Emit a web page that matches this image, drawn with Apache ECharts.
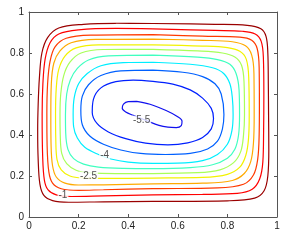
<!DOCTYPE html>
<html><head><meta charset="utf-8">
<script src="https://cdn.jsdelivr.net/npm/echarts@6/dist/echarts.min.js"></script>
<style>html,body{margin:0;padding:0;background:#fff}#c{width:291px;height:242px}</style>
</head><body><div id="c"></div>
<script>
// contour levels (outer -> inner)
const levels = [-0.5, -1, -1.5, -2, -2.5, -3, -3.5, -4, -4.5, -5, -5.5];
const xTicks = [0, 0.2, 0.4, 0.6, 0.8, 1];
const yTicks = [0, 0.2, 0.4, 0.6, 0.8, 1];

// contour paths, [x, y]
const cM05 = [[0.5,0.944],[0.75,0.94],[0.88,0.935],[0.935,0.918],[0.956,0.88],[0.963,0.8],[0.965,0.65],[0.966,0.5],[0.967,0.33],[0.963,0.2],[0.948,0.128],[0.91,0.092],[0.8,0.079],[0.5,0.076],[0.3,0.074],[0.16,0.072],[0.095,0.08],[0.06,0.105],[0.044,0.16],[0.037,0.28],[0.035,0.42],[0.037,0.55],[0.042,0.68],[0.052,0.8],[0.075,0.875],[0.12,0.922],[0.22,0.94],[0.35,0.945],[0.5,0.944]];
const cM10 = [[0.5,0.918],[0.75,0.91],[0.86,0.906],[0.912,0.893],[0.936,0.858],[0.945,0.78],[0.947,0.6],[0.946,0.42],[0.943,0.27],[0.93,0.185],[0.9,0.135],[0.84,0.115],[0.7,0.11],[0.5,0.108],[0.3,0.103],[0.17,0.1],[0.11,0.108],[0.077,0.132],[0.062,0.18],[0.055,0.3],[0.053,0.5],[0.056,0.65],[0.065,0.77],[0.085,0.85],[0.12,0.893],[0.2,0.913],[0.35,0.92],[0.5,0.918]];
const cM15 = [[0.5,0.89],[0.7,0.882],[0.85,0.877],[0.898,0.862],[0.92,0.822],[0.928,0.73],[0.929,0.55],[0.928,0.4],[0.922,0.28],[0.905,0.205],[0.865,0.16],[0.76,0.142],[0.5,0.138],[0.3,0.133],[0.2,0.13],[0.13,0.138],[0.095,0.165],[0.08,0.22],[0.073,0.35],[0.072,0.5],[0.075,0.65],[0.085,0.76],[0.105,0.83],[0.15,0.872],[0.25,0.887],[0.5,0.89]];
const cM20 = [[0.5,0.868],[0.7,0.862],[0.82,0.855],[0.873,0.835],[0.898,0.79],[0.907,0.7],[0.908,0.5],[0.905,0.36],[0.894,0.27],[0.868,0.212],[0.82,0.178],[0.7,0.165],[0.5,0.162],[0.3,0.157],[0.2,0.156],[0.145,0.165],[0.11,0.195],[0.095,0.25],[0.089,0.35],[0.088,0.5],[0.09,0.65],[0.1,0.75],[0.125,0.81],[0.17,0.85],[0.27,0.866],[0.5,0.868]];
const cM25 = [[0.5,0.84],[0.7,0.834],[0.8,0.826],[0.85,0.808],[0.876,0.77],[0.886,0.68],[0.888,0.5],[0.885,0.38],[0.874,0.3],[0.85,0.243],[0.8,0.208],[0.7,0.193],[0.5,0.19],[0.3,0.188],[0.22,0.19],[0.165,0.2],[0.13,0.23],[0.113,0.28],[0.108,0.38],[0.107,0.5],[0.11,0.63],[0.12,0.72],[0.145,0.785],[0.19,0.825],[0.28,0.84],[0.5,0.84]];
const cM30 = [[0.5,0.818],[0.68,0.81],[0.78,0.8],[0.83,0.78],[0.857,0.74],[0.867,0.66],[0.869,0.5],[0.865,0.4],[0.854,0.32],[0.825,0.265],[0.77,0.23],[0.68,0.216],[0.5,0.212],[0.35,0.212],[0.25,0.215],[0.19,0.228],[0.152,0.26],[0.132,0.31],[0.126,0.4],[0.125,0.5],[0.128,0.6],[0.14,0.69],[0.165,0.755],[0.21,0.8],[0.3,0.817],[0.5,0.818]];
const cM35 = [[0.5,0.79],[0.68,0.78],[0.76,0.768],[0.81,0.745],[0.835,0.7],[0.847,0.62],[0.849,0.5],[0.845,0.4],[0.83,0.33],[0.8,0.287],[0.74,0.255],[0.65,0.241],[0.5,0.236],[0.38,0.237],[0.28,0.243],[0.22,0.258],[0.18,0.285],[0.157,0.33],[0.148,0.41],[0.147,0.5],[0.152,0.6],[0.167,0.67],[0.195,0.725],[0.24,0.766],[0.32,0.786],[0.5,0.79]];
const cM40 = [[0.5,0.755],[0.65,0.745],[0.74,0.728],[0.785,0.7],[0.81,0.65],[0.82,0.58],[0.823,0.5],[0.818,0.42],[0.8,0.355],[0.76,0.305],[0.7,0.275],[0.6,0.263],[0.5,0.262],[0.4,0.268],[0.33,0.283],[0.28,0.305],[0.225,0.34],[0.195,0.385],[0.18,0.44],[0.178,0.5],[0.182,0.58],[0.2,0.65],[0.235,0.7],[0.29,0.738],[0.38,0.753],[0.5,0.755]];
const cM45 = [[0.5,0.716],[0.62,0.706],[0.7,0.685],[0.75,0.65],[0.775,0.6],[0.786,0.5],[0.78,0.43],[0.76,0.37],[0.72,0.332],[0.65,0.31],[0.55,0.305],[0.45,0.31],[0.37,0.327],[0.3,0.355],[0.245,0.395],[0.215,0.45],[0.209,0.52],[0.215,0.59],[0.24,0.645],[0.29,0.69],[0.37,0.713],[0.5,0.716]];
const cM50 = [[0.5,0.662],[0.58,0.648],[0.65,0.62],[0.7,0.58],[0.735,0.53],[0.744,0.48],[0.735,0.43],[0.7,0.388],[0.64,0.362],[0.56,0.352],[0.47,0.36],[0.39,0.382],[0.32,0.415],[0.275,0.455],[0.255,0.51],[0.26,0.575],[0.29,0.63],[0.35,0.66],[0.42,0.668],[0.5,0.662]];
const cM55 = [[0.434,0.564],[0.488,0.55],[0.555,0.518],[0.598,0.49],[0.617,0.467],[0.614,0.446],[0.594,0.436],[0.56,0.438],[0.524,0.447],[0.474,0.47],[0.42,0.496],[0.39,0.512],[0.376,0.53],[0.381,0.551],[0.4,0.563],[0.434,0.564]];
const contours = [cM05, cM10, cM15, cM20, cM25, cM30, cM35, cM40, cM45, cM50, cM55];

// inline contour labels
const labelText = ['-1', '-2.5', '-4', '-5.5'];
const labelX = [0.137, 0.24, 0.305, 0.454];
const labelY = [0.105, 0.197, 0.30, 0.47];

const colors = ['#9a0000','#ff0000','#ff3a00','#ffaa00','#f2f200','#a8ff58','#40ffc0','#00eeff','#0060ff','#0020ff','#1010ee'];

const chart = echarts.init(document.getElementById('c'), null, {renderer: 'canvas'});
const axisCol = '#555';
const font = 'Liberation Sans, Arial, Helvetica, sans-serif';
const baseAxis = {
  type: 'value', min: 0, max: 1, interval: 0.2,
  axisLine: {show: true, onZero: false, lineStyle: {color: axisCol, width: 1}},
  axisTick: {show: true, inside: true, length: 3, lineStyle: {color: axisCol}},
  splitLine: {show: false}
};
const series = contours.map((c, i) => ({
  type: 'line', data: c, smooth: 0.35, showSymbol: false, symbol: 'none',
  lineStyle: {color: colors[i], width: 1.2}, silent: true, z: 2
}));
series.push({
  type: 'scatter', symbolSize: 0, z: 5, silent: true,
  data: labelX.map((x, i) => ({value: [x, labelY[i]], name: labelText[i]})),
  label: {show: true, position: 'inside', formatter: p => p.name, color: '#222',
    fontFamily: font, fontSize: 10, backgroundColor: '#fff', padding: [0, 1]}
});
chart.setOption({
  animation: false,
  grid: {left: 29, right: 14, top: 12, bottom: 25},
  xAxis: [
    Object.assign({}, baseAxis, {position: 'bottom',
      axisLabel: {color: '#222', fontFamily: font, fontSize: 10, margin: 4,
        customValues: xTicks}}),
    Object.assign({}, baseAxis, {position: 'top', axisLabel: {show: false}})
  ],
  yAxis: [
    Object.assign({}, baseAxis, {position: 'left',
      axisLabel: {color: '#222', fontFamily: font, fontSize: 10, margin: 5,
        customValues: yTicks}}),
    Object.assign({}, baseAxis, {position: 'right', axisLabel: {show: false}})
  ],
  series: series
});
</script></body></html>
